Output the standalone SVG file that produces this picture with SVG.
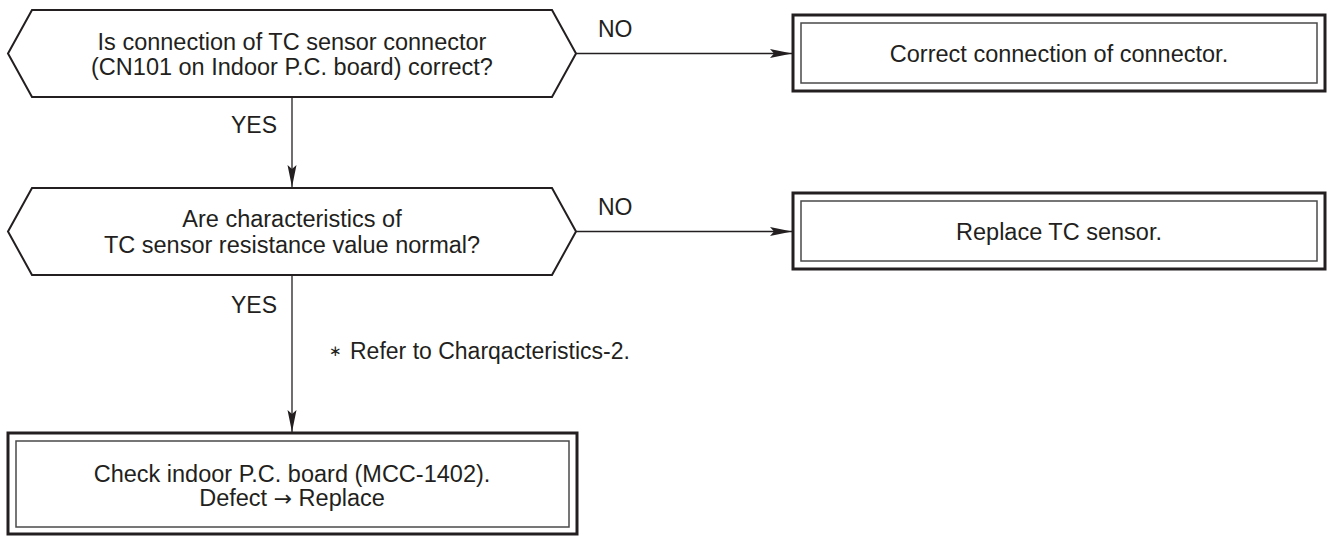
<svg xmlns="http://www.w3.org/2000/svg" width="1329" height="536" viewBox="0 0 1329 536">
<defs>
<style>
.t{font-family:"Liberation Sans",Arial,sans-serif;font-size:23.5px;fill:#231f20;text-anchor:middle}
.l{font-family:"Liberation Sans",Arial,sans-serif;font-size:23px;fill:#231f20}
.ar{font-family:"DejaVu Sans",sans-serif;font-size:22px}
.hex{fill:#fff;stroke:#231f20;stroke-width:2}
.outer{fill:#fff;stroke:#231f20;stroke-width:3}
.inner{fill:none;stroke:#4a4a4a;stroke-width:1.5}
.c{fill:none;stroke:#231f20;stroke-width:1.3}
</style>
<marker id="ah" markerWidth="22" markerHeight="10" refX="22" refY="5" orient="auto" markerUnits="userSpaceOnUse">
<path d="M0,0.5 L22,5 L0,9.5 L4,5 Z" fill="#231f20"/>
</marker>
</defs>
<rect width="1329" height="536" fill="#fff"/>
<g id="connectors">
<line class="c" x1="576" y1="53.5" x2="792" y2="53.5" marker-end="url(#ah)"/>
<line class="c" x1="292" y1="97" x2="292" y2="187" marker-end="url(#ah)"/>
<line class="c" x1="576" y1="231.5" x2="792" y2="231.5" marker-end="url(#ah)"/>
<line class="c" x1="292" y1="275" x2="292" y2="432" marker-end="url(#ah)"/>
<text class="l" x="598" y="37">NO</text>
<text class="l" x="598" y="215">NO</text>
<text class="l" x="277" y="133" text-anchor="end">YES</text>
<text class="l" x="277" y="313" text-anchor="end">YES</text>
<text class="l" x="329" y="359"><tspan font-family="DejaVu Sans" font-size="15" dy="-3">∗</tspan><tspan dy="3" x="350">Refer to Charqacteristics-2.</tspan></text>
</g>
<g id="q1">
<polygon class="hex" points="8,53.5 32,10 552,10 576,53.5 552,97 32,97"/>
<text class="t" x="292" y="50">Is connection of TC sensor connector</text>
<text class="t" x="292" y="75">(CN101 on Indoor P.C. board) correct?</text>
</g>
<g id="a1">
<rect class="outer" x="793" y="15" width="532" height="76"/>
<rect class="inner" x="801" y="23" width="516" height="60"/>
<text class="t" x="1059" y="62">Correct connection of connector.</text>
</g>
<g id="q2">
<polygon class="hex" points="8,231.5 32,188 552,188 576,231.5 552,275 32,275"/>
<text class="t" x="292" y="227">Are characteristics of</text>
<text class="t" x="292" y="253">TC sensor resistance value normal?</text>
</g>
<g id="a2">
<rect class="outer" x="793" y="193" width="532" height="76"/>
<rect class="inner" x="801" y="201" width="516" height="60"/>
<text class="t" x="1059" y="240">Replace TC sensor.</text>
</g>
<g id="a3">
<rect class="outer" x="8" y="433" width="569" height="101"/>
<rect class="inner" x="16" y="441" width="553" height="86"/>
<text class="t" x="292" y="482">Check indoor P.C. board (MCC-1402).</text>
<text class="t" x="292" y="506">Defect <tspan class="ar">→</tspan> Replace</text>
</g>
</svg>
